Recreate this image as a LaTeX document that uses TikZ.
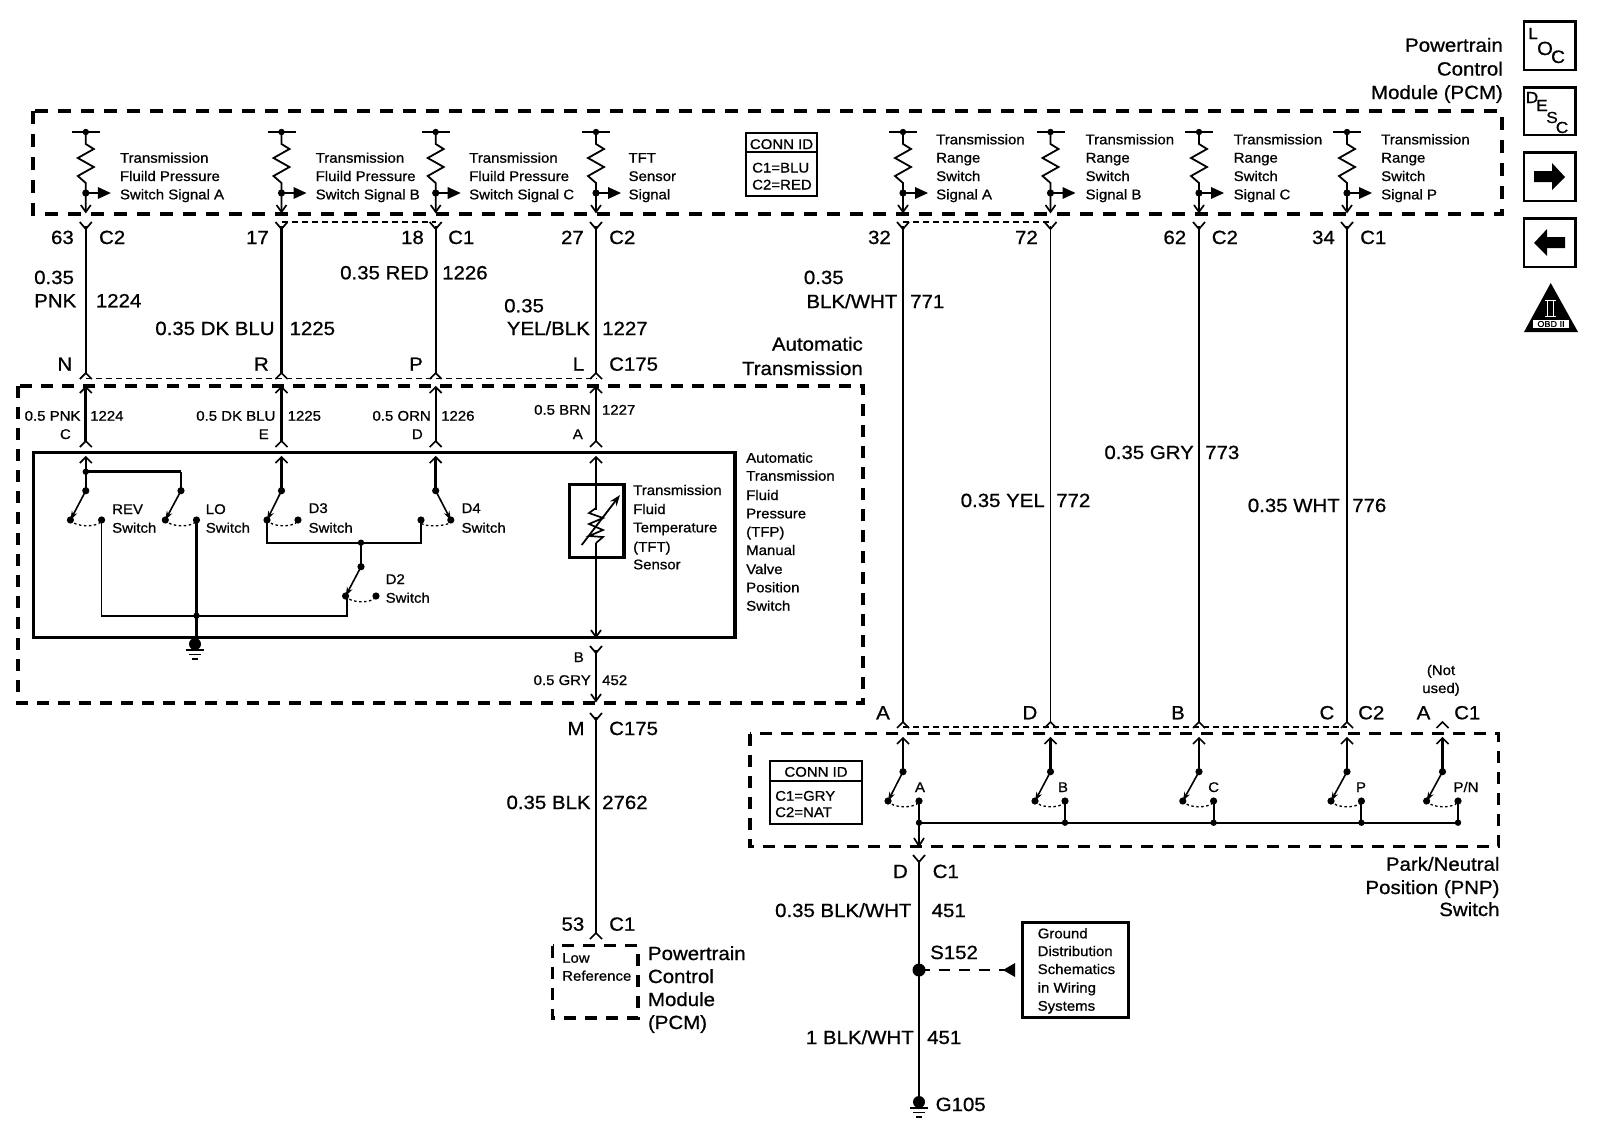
\documentclass[tikz,border=0pt]{standalone}
\usepackage{fontspec}
\setmainfont{Liberation Sans}[FakeStretch=1.07,FakeBold=0.8]
\usetikzlibrary{arrows.meta}
\tikzset{
  big/.style={font=\fontsize{19.1}{20}\selectfont,inner sep=0pt},
  sml/.style={font=\fontsize{14}{16}\selectfont,inner sep=0pt},
  bR/.style={big,anchor=base east}, bL/.style={big,anchor=base west}, bC/.style={big,anchor=base},
  sR/.style={sml,anchor=base east}, sL/.style={sml,anchor=base west}, sC/.style={sml,anchor=base},
  wire/.style={line width=1.7pt},
  mwire/.style={line width=2.1pt},
  twire/.style={line width=1.1pt},
  hwire/.style={line width=2.8pt},
  bigdash/.style={line width=4pt,dash pattern=on 13pt off 10pt},
  middash/.style={line width=3.4pt,dash pattern=on 12pt off 9pt},
  thindash/.style={line width=1.2pt,dash pattern=on 6pt off 4pt},
  arc dots/.style={line width=1.3pt,dash pattern=on 2.5pt off 2.5pt},
  fork/.pic={\draw[line width=1.7pt] (-6,0) -- (0,7) -- (6,0);},
  caret/.pic={\draw[line width=1.7pt] (-6,6) -- (0,0) -- (6,6);},
}
\newcommand{\jdot}[2]{\fill (#1,#2) circle[radius=3.2pt];}
% pull-up network: x position
\newcommand{\pullup}[1]{%
  \draw[line width=1.4pt] (#1-14,132) -- (#1+14,132);
  \fill (#1,132) circle[radius=3.2pt];
  \draw[line width=1.8pt] (#1,132) -- (#1,144) -- (#1+8,149) -- (#1-8,158) -- (#1+8,167) -- (#1-8,176) -- (#1,183) -- (#1,211);
  \fill (#1,193) circle[radius=3.6pt];
  \draw[line width=1.8pt] (#1,193) -- (#1+14,193);
  \fill (#1+12,187) -- (#1+25,193) -- (#1+12,199) -- cycle;
  \draw[line width=1.7pt] (#1-5,205) -- (#1,212) -- (#1+5,205);
  \pic at (#1,222) {fork};
}
% switch: x top, y top, x blade end, x contact, y contact
\newcommand{\swtch}[5]{%
  \fill (#1,#2) circle[radius=3.6pt];
  \draw[line width=1.6pt,-{Stealth[length=9pt,width=6pt]}] (#1,#2) -- (#3,#5);
  \fill (#3,#5) circle[radius=3.6pt];
  \fill (#4,#5) circle[radius=3.6pt];
  \draw[arc dots] (#3,#5) .. controls (#3+4,#5+7) and (#4-5,#5+8) .. (#4,#5+1);
}
\newcommand{\gnd}[2]{%
  \fill (#1,#2) circle[radius=6pt];
  \draw[line width=1.6pt] (#1-9,#2+6) -- (#1+9,#2+6);
  \draw[line width=1.6pt] (#1-6,#2+10.5) -- (#1+6,#2+10.5);
  \draw[line width=1.6pt] (#1-3,#2+15) -- (#1+3,#2+15);
}
\begin{document}
\begin{tikzpicture}[x=1pt,y=-1pt]
\useasboundingbox (0,0) rectangle (1600,1130);
\fill[white] (0,0) rectangle (1600,1130);
% ---- dashed module outlines
\draw[bigdash] (33,111) rectangle (1501.7,214);
\draw[middash] (18,386) rectangle (863,703);
\draw[middash] (750,733.5) rectangle (1498.7,846.5);
\draw[middash] (552.6,945.7) rectangle (638,1018);
% ---- solid boxes
\draw[line width=3.4pt] (33.6,452.7) rectangle (735,637.5);
\draw[line width=3.2pt] (569.3,484.3) rectangle (624,557.7);
% ---- pull ups
\foreach \x in {85.8,281.5,435.7,596,903,1050.5,1199,1347}{\pullup{\x}}
% ---- PCM text
\node[sL] (ta1) at (119.8,162.7) {Transmission};
\node[sL] (ta2) at (119.8,181) {Fluild Pressure};
\node[sL] (ta3) at (119.8,199.3) {Switch Signal A};
\node[sL] (tb1) at (315.5,162.7) {Transmission};
\node[sL] (tb2) at (315.5,181) {Fluild Pressure};
\node[sL] (tb3) at (315.5,199.3) {Switch Signal B};
\node[sL] (tc1) at (469,162.7) {Transmission};
\node[sL] (tc2) at (469,181) {Fluild Pressure};
\node[sL] (tc3) at (469,199.3) {Switch Signal C};
\node[sL] (td1) at (628.4,162.7) {TFT};
\node[sL] (td2) at (628.4,181) {Sensor};
\node[sL] (td3) at (628.4,199.3) {Signal};
\foreach \n/\x/\s in {ra/936/A,rb/1085.4/B,rc/1233.5/C,rp/1381/P}{
  \node[sL] (\n1) at (\x,144.3) {Transmission};
  \node[sL] (\n2) at (\x,162.5) {Range};
  \node[sL] (\n3) at (\x,181) {Switch};
  \node[sL] (\n4) at (\x,199.3) {Signal \s};
}
% ---- CONN ID upper
\draw[line width=2.4pt] (746,132.7) rectangle (817,196);
\draw[line width=1.6pt] (746,152) -- (817,152);
\node[sC] (cid1) at (781.5,149) {CONN ID};
\node[sL] (cid2) at (752,172.5) {C1=BLU};
\node[sL] (cid3) at (752,189.5) {C2=RED};
% ---- title PCM
\node[bR] (pt1) at (1503,51.7) {Powertrain};
\node[bR] (pt2) at (1503,75.5) {Control};
\node[bR] (pt3) at (1503,99) {Module (PCM)};
% ---- wire ends
\foreach \n/\x in {n/85.8,r/281.5,p/435.7,l/596,a/903,d/1050.5,b/1199,c/1347}{
  \coordinate (\n T) at (\x,226);
}
\coordinate (nB) at (85.8,373); \coordinate (rB) at (281.5,373);
\coordinate (pB) at (435.7,373); \coordinate (lB) at (596,373);
\coordinate (aB) at (903,722); \coordinate (dB) at (1050.5,722);
\coordinate (bB) at (1199,722); \coordinate (cB) at (1347,722);
\draw[wire] (nT) -- (nB);
\draw[hwire] (rT) -- (rB);
\draw[wire] (pT) -- (pB);
\draw[wire] (lT) -- (lB);
\draw[hwire] (aT) -- (aB);
\draw[twire] (dT) -- (dB);
\draw[wire] (bT) -- (bB);
\draw[hwire] (cT) -- (cB);
\foreach \c in {n,r,p,l,a,d,b,c}{\pic at (\c B) {caret};}
\pic at (1442.5,722) {caret};
% connector dashed links
\draw[thindash] (281.5,222) -- (435.7,222);
\draw[thindash] (903,222) -- (1050.5,222);
\draw[thindash] (85.8,378.5) -- (596,378.5);
\draw[thindash] (903,727) -- (1347,727);
% ---- upper wire labels
\node[bR] (w63) at (74,244) {63};
\node[bL] (wc2a) at (98.9,244) {C2};
\node[bR] (w17) at (269,244) {17};
\node[bR] (w18) at (424,244) {18};
\node[bL] (wc1a) at (448,244) {C1};
\node[bR] (w27) at (584,244) {27};
\node[bL] (wc2b) at (609,244) {C2};
\node[bR] (w32) at (891,244) {32};
\node[bR] (w72) at (1038,244) {72};
\node[bR] (w62) at (1186.4,244) {62};
\node[bL] (wc2c) at (1211.6,244) {C2};
\node[bR] (w34) at (1335,244) {34};
\node[bL] (wc1b) at (1360,244) {C1};
\node[bL] (g1a) at (34,284) {0.35};
\node[bL] (g1b) at (34,307.3) {PNK};
\node[bL] (g1c) at (95.7,307.3) {1224};
\node[bR] (g2a) at (274.8,335) {0.35 DK BLU};
\node[bL] (g2b) at (289.4,335) {1225};
\node[bR] (g3a) at (429,279.3) {0.35 RED};
\node[bL] (g3b) at (442,279.3) {1226};
\node[bL] (g4a) at (504,312.3) {0.35};
\node[bR] (g4b) at (590,335) {YEL/BLK};
\node[bL] (g4c) at (602,335) {1227};
\node[bL] (g5a) at (803.7,284) {0.35};
\node[bR] (g5b) at (897.5,308) {BLK/WHT};
\node[bL] (g5c) at (910,308) {771};
\node[bR] (g6a) at (1045,507) {0.35 YEL};
\node[bL] (g6b) at (1056,507) {772};
\node[bR] (g7a) at (1194,459) {0.35 GRY};
\node[bL] (g7b) at (1205,459) {773};
\node[bR] (g8a) at (1340,512) {0.35 WHT};
\node[bL] (g8b) at (1352,512) {776};
\node[bR] (pn) at (72.4,370.7) {N};
\node[bR] (pr) at (269,370.7) {R};
\node[bR] (pp) at (423,370.7) {P};
\node[bR] (pl) at (584.4,370.7) {L};
\node[bL] (c175a) at (609,370.7) {C175};
\node[bR] (at1) at (863,350.7) {Automatic};
\node[bR] (at2) at (863,375) {Transmission};
% ---- transmission harness wires
\foreach \x in {85.8,281.5,435.7,596}{
  \pic at (\x,387) {caret};
  \pic at (\x,441) {caret};
  \pic at (\x,457) {caret};
}
\draw[hwire] (85.8,387) -- (85.8,441);
\draw[hwire] (281.5,387) -- (281.5,441);
\draw[wire] (435.7,387) -- (435.7,441);
\draw[wire] (596,387) -- (596,441);
\node[sL] (h1a) at (24.5,420.7) {0.5 PNK};
\node[sL] (h1b) at (90,420.7) {1224};
\node[sR] (h1c) at (71,439) {C};
\node[sR] (h2a) at (275.6,420.7) {0.5 DK BLU};
\node[sL] (h2b) at (287.5,420.7) {1225};
\node[sR] (h2c) at (269,439) {E};
\node[sR] (h3a) at (431,420.7) {0.5 ORN};
\node[sL] (h3b) at (441,420.7) {1226};
\node[sR] (h3c) at (423,439) {D};
\node[sR] (h4a) at (591,414.7) {0.5 BRN};
\node[sL] (h4b) at (601.8,414.7) {1227};
\node[sR] (h4c) at (583,439) {A};
% ---- rev / lo
\draw[mwire] (85.8,457) -- (85.8,490.7);
\draw[hwire] (85.8,471.7) -- (181,471.7);
\draw[wire] (181,471.7) -- (181,490.7);
\jdot{85.8}{471.7}
\swtch{85.8}{490.7}{70.4}{101.6}{520}
\swtch{181}{490.7}{165.3}{196.5}{520}
\draw[wire] (101.6,520) -- (101.6,615.7) -- (346.8,615.7) -- (346.8,595);
\draw[hwire] (196.5,520) -- (196.5,643);
\jdot{196.5}{615.7}
\gnd{195}{644}
\node[sL] (srev) at (112,514) {REV};
\node[sL] (srev2) at (112,532.7) {Switch};
\node[sL] (slo) at (205.6,514) {LO};
\node[sL] (slo2) at (205.6,532.7) {Switch};
% ---- D3/D4/D2
\draw[mwire] (281.5,457) -- (281.5,490.7);
\swtch{281.5}{490.7}{267}{298}{520}
\draw[hwire] (435.7,457) -- (435.7,490.7);
\swtch{435.7}{490.7}{450.8}{421}{520}
\draw[wire] (267,520) -- (267,542.7) -- (421,542.7) -- (421,520);
\jdot{361}{542.7}
\draw[hwire] (361,542.7) -- (361,566.7);
\swtch{361}{566.7}{345.6}{376}{596}
\node[sL] (sd3) at (308.4,513) {D3};
\node[sL] (sd3b) at (308.4,532.7) {Switch};
\node[sL] (sd4) at (461.4,513) {D4};
\node[sL] (sd4b) at (461.4,532.7) {Switch};
\node[sL] (sd2) at (385.5,584) {D2};
\node[sL] (sd2b) at (385.5,602.7) {Switch};
% ---- TFT sensor
\draw[wire] (596,457) -- (596,510);
\draw[wire] (596,543) -- (596,636);
\draw[wire] (596,508) -- (589,513) -- (603,518) -- (589,524) -- (603,530) -- (589,536) -- (603,537) -- (596,543);
\draw[line width=1.8pt,-{Stealth[length=11pt,width=8pt]}] (581.7,545) -- (620,495);
\draw[line width=1.7pt] (591,630) -- (596,637) -- (601,630);
\pic at (596,646) {fork};
\node[sL] (tf1) at (633,495) {Transmission};
\node[sL] (tf2) at (633,514) {Fluid};
\node[sL] (tf3) at (633,532.3) {Temperature};
\node[sL] (tf4) at (633,551.7) {(TFT)};
\node[sL] (tf5) at (633,569.3) {Sensor};
\node[sL] (af1) at (746,462.7) {Automatic};
\node[sL] (af2) at (746,480.7) {Transmission};
\node[sL] (af3) at (746,500) {Fluid};
\node[sL] (af4) at (746,518.3) {Pressure};
\node[sL] (af5) at (746,536.7) {(TFP)};
\node[sL] (af6) at (746,555) {Manual};
\node[sL] (af7) at (746,574) {Valve};
\node[sL] (af8) at (746,592.3) {Position};
\node[sL] (af9) at (746,610.7) {Switch};
\draw[wire] (596,650) -- (596,700);
\draw[line width=1.7pt] (591,694) -- (596,701) -- (601,694);
\node[sR] (h5a) at (584,662) {B};
\node[sR] (h5b) at (591,685) {0.5 GRY};
\node[sL] (h5c) at (602,685) {452};
% ---- lower PCM wire
\pic at (596,713) {fork};
\draw[wire] (596,717) -- (596,934);
\pic at (596,933) {caret};
\node[bR] (lm) at (584.7,735) {M};
\node[bL] (lc) at (609,735) {C175};
\node[bR] (lw) at (590.8,809) {0.35 BLK};
\node[bL] (lw2) at (602,809) {2762};
\node[bR] (l53) at (584.5,930.7) {53};
\node[bL] (lc1) at (609,930.7) {C1};
\node[sL] (lo1) at (562,962.7) {Low};
\node[sL] (lo2) at (562,980.7) {Reference};
\node[bL] (lp1) at (647.8,960) {Powertrain};
\node[bL] (lp2) at (647.8,983) {Control};
\node[bL] (lp3) at (647.8,1006) {Module};
\node[bL] (lp4) at (647.8,1029) {(PCM)};
% ---- PNP
\node[bR] (pa) at (890,719.3) {A};
\node[bR] (pd) at (1037.5,719.3) {D};
\node[bR] (pb) at (1185,719.3) {B};
\node[bR] (pc) at (1334.5,719.3) {C};
\node[bL] (pc2) at (1358,719.3) {C2};
\node[bR] (pa2) at (1430.5,719.3) {A};
\node[bL] (pc1) at (1454,719.3) {C1};
\node[sC] (nu1) at (1441,675) {(Not};
\node[sC] (nu2) at (1441,693) {used)};
\foreach \xt/\xb/\xc in {903/888/919,1050.5/1035/1065,1199/1182.8/1213.6,1347/1331/1361.4,1442.5/1426.6/1458}{
  \pic at (\xt,738) {caret};
  \draw[mwire] (\xt,738) -- (\xt,771.7);
  \swtch{\xt}{771.7}{\xb}{\xc}{801}
  \draw[mwire] (\xc,801) -- (\xc,822.7);
  \jdot{\xc}{822.7}
}
\draw[wire] (919,822.7) -- (1458,822.7);
\draw[wire] (919,822.7) -- (919,845);
\draw[line width=1.7pt] (914,838) -- (919,846) -- (924,838);
\node[sC] (sa) at (920,792) {A};
\node[sC] (sb) at (1063,792) {B};
\node[sC] (sc) at (1213.6,792) {C};
\node[sC] (sp) at (1361,792) {P};
\node[sC] (spn) at (1466,792) {P/N};
\draw[line width=2.8pt] (770,761) rectangle (862,824);
\draw[line width=1.6pt] (770,781) -- (862,781);
\node[sC] (cj1) at (816,776.7) {CONN ID};
\node[sL] (cj2) at (775,800.7) {C1=GRY};
\node[sL] (cj3) at (775,817) {C2=NAT};
\node[bR] (pn1) at (1499.7,870.7) {Park/Neutral};
\node[bR] (pn2) at (1499.7,894) {Position (PNP)};
\node[bR] (pn3) at (1499.7,916) {Switch};
% ---- ground wire
\pic at (919,855) {fork};
\draw[hwire] (919,860) -- (919,1102);
\node[bR] (gd) at (908,878) {D};
\node[bL] (gc) at (932.5,878) {C1};
\node[bR] (gw) at (911.6,917) {0.35 BLK/WHT};
\node[bL] (gw2) at (931.5,917) {451};
\node[bL] (gs) at (930,959) {S152};
\node[bR] (gw3) at (914,1044) {1 BLK/WHT};
\node[bL] (gw4) at (927,1044) {451};
\node[bL] (gg) at (935.5,1111) {G105};
\fill (919,970) circle[radius=6.5pt];
\gnd{919}{1102}
\coordinate (spl) at (919,970);
\draw[line width=3pt] (1022.8,922.3) rectangle (1128,1017.3);
\coordinate (gref) at (1014.7,970);
\draw[line width=1.4pt,dash pattern=on 11pt off 9pt] (spl) -- (gref);
\fill (1003,970) -- (1015,963) -- (1015,977) -- cycle;
\node[sL] (gb1) at (1037.5,938.3) {Ground};
\node[sL] (gb2) at (1037.5,956) {Distribution};
\node[sL] (gb3) at (1037.5,974) {Schematics};
\node[sL] (gb4) at (1037.5,992.5) {in Wiring};
\node[sL] (gb5) at (1037.5,1010.7) {Systems};
% ---- icons
\draw[line width=2.8pt] (1524,21.7) rectangle (1575.5,70);
\node[sC,font=\fontsize{16}{16}\selectfont] (il) at (1533,39) {L};
\node[sC,font=\fontsize{19}{19}\selectfont] (io) at (1545,55) {O};
\node[sC,font=\fontsize{18}{18}\selectfont] (ic) at (1558,63) {C};
\draw[line width=2.8pt] (1524,87.7) rectangle (1575.5,135);
\node[sC,font=\fontsize{16}{16}\selectfont] (d1) at (1532,103) {D};
\node[sC,font=\fontsize{16}{16}\selectfont] (d2) at (1542,111) {E};
\node[sC,font=\fontsize{16}{16}\selectfont] (d3) at (1552,123) {S};
\node[sC,font=\fontsize{16}{16}\selectfont] (d4) at (1562,133) {C};
\draw[line width=2.8pt] (1524,152.7) rectangle (1575.5,201);
\fill (1534,171) -- (1552,171) -- (1552,163) -- (1565,177) -- (1552,190) -- (1552,182) -- (1534,182) -- cycle;
\draw[line width=2.8pt] (1524,218.7) rectangle (1575.5,267);
\fill (1565,237) -- (1547,237) -- (1547,229) -- (1534,243) -- (1547,256) -- (1547,248) -- (1565,248) -- cycle;
\fill (1550.7,283) -- (1578,332) -- (1524,332) -- cycle;
\draw[white,line width=1pt] (1545,300) -- (1556,300);
\draw[white,line width=1pt] (1545,316) -- (1556,316);
\draw[white,line width=1.1pt] (1547.7,300) -- (1547.7,316);
\draw[white,line width=1.1pt] (1553.3,300) -- (1553.3,316);
\fill[white] (1533,320) rectangle (1569,328);
\node[font=\fontsize{8.5}{9}\selectfont,inner sep=0pt] (obd) at (1551,324) {OBD II};
\end{tikzpicture}
\end{document}
